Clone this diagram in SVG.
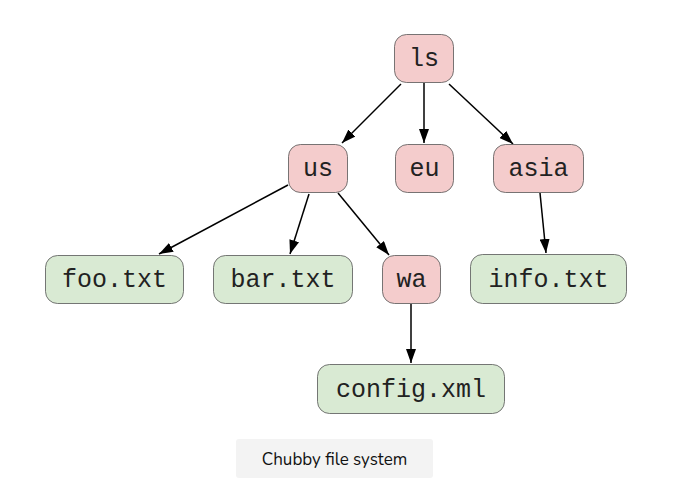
<svg xmlns="http://www.w3.org/2000/svg" width="674" height="483" viewBox="0 0 674 483">
<style>
.n rect{stroke:#555;stroke-width:0.8}
.d rect{fill:#f4cccc}
.f rect{fill:#d9ead3}
.n text{font-family:"Liberation Mono","Courier New",monospace;font-size:25px;fill:#222;text-anchor:middle;dominant-baseline:central}
.e line{stroke:#000;stroke-width:1.5;marker-end:url(#a)}
.cap text{font-family:"Nunito","Lato","Noto Sans",sans-serif;font-size:17px;fill:#111;text-anchor:middle;dominant-baseline:central}
</style>
<defs>
<marker id="a" viewBox="0 0 14 10" refX="14" refY="5" markerWidth="14" markerHeight="10" markerUnits="userSpaceOnUse" orient="auto">
<path d="M0,0 L14,5 L0,10 z" fill="#000"/>
</marker>
</defs>
<rect width="674" height="483" fill="#fff"/>
<g class="e" id="edges">
<line x1="401" y1="84" x2="342" y2="143"/>
<line x1="424" y1="83" x2="424" y2="143"/>
<line x1="449" y1="84" x2="513" y2="144"/>
<line x1="288" y1="185" x2="159" y2="254"/>
<line x1="309" y1="194" x2="290" y2="254"/>
<line x1="338" y1="193" x2="389" y2="255"/>
<line x1="411" y1="304" x2="411" y2="363"/>
<line x1="540" y1="193" x2="546" y2="253"/>
</g>
<g id="ls" class="n d"><rect x="394.5" y="34.5" width="59" height="48" rx="12"/><text x="424" y="59">ls</text></g>
<g id="us" class="n d"><rect x="288.5" y="144.5" width="59" height="48" rx="12"/><text x="318" y="169">us</text></g>
<g id="eu" class="n d"><rect x="395.5" y="144.5" width="58" height="48" rx="12"/><text x="424.5" y="169">eu</text></g>
<g id="asia" class="n d"><rect x="493.5" y="144.5" width="90" height="48" rx="12"/><text x="538.5" y="169">asia</text></g>
<g id="foo" class="n f"><rect x="45.5" y="255.5" width="138" height="48" rx="12"/><text x="114.5" y="280">foo.txt</text></g>
<g id="bar" class="n f"><rect x="213.5" y="255.5" width="139" height="48" rx="12"/><text x="283" y="280">bar.txt</text></g>
<g id="wa" class="n d"><rect x="382.5" y="255.5" width="58" height="48" rx="12"/><text x="411.5" y="280">wa</text></g>
<g id="info" class="n f"><rect x="470.5" y="254.5" width="156" height="49" rx="12"/><text x="548.5" y="280">info.txt</text></g>
<g id="config" class="n f"><rect x="317.5" y="364.5" width="187" height="49" rx="12"/><text x="411" y="390">config.xml</text></g>
<g id="caption" class="cap"><rect x="236" y="439" width="197" height="39" rx="3" fill="#f3f3f3"/><text x="334.5" y="459">Chubby file system</text></g>
</svg>
